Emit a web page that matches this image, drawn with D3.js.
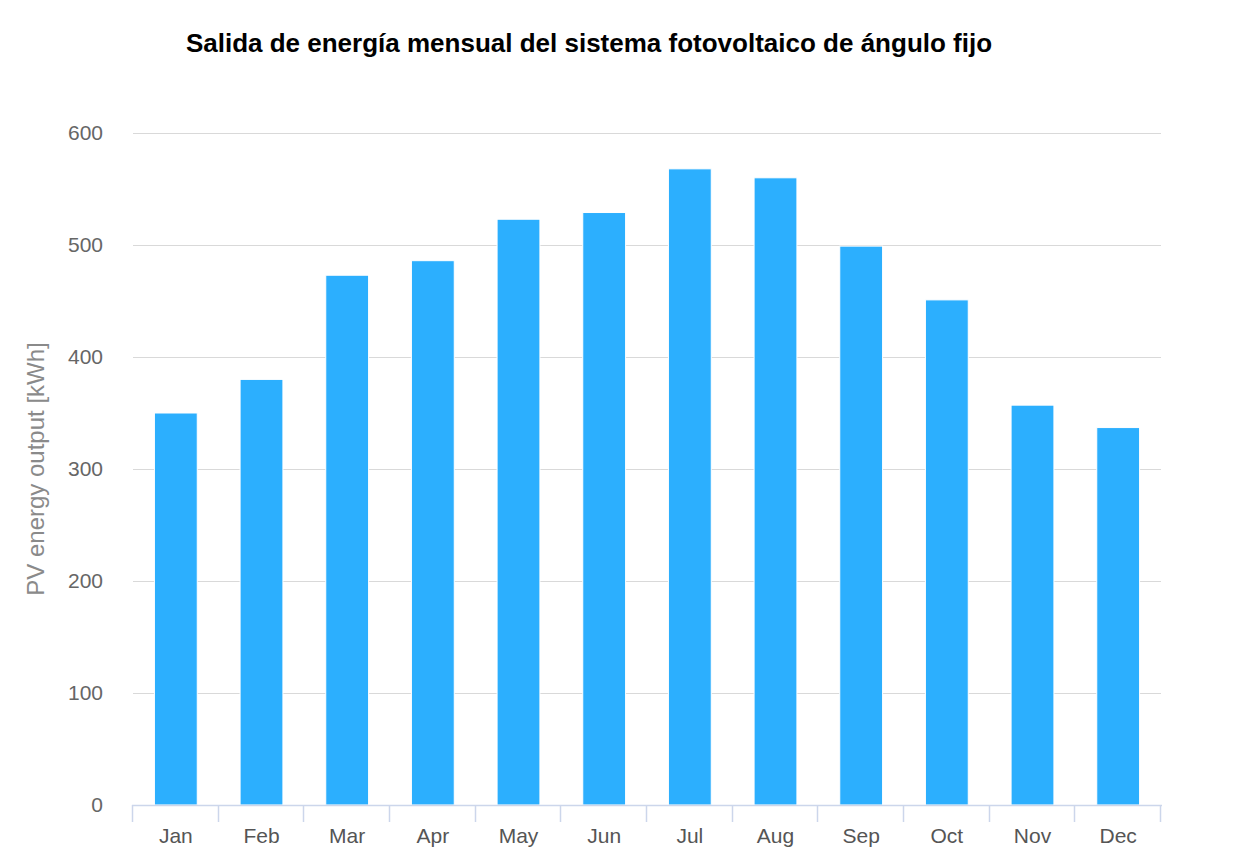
<!DOCTYPE html>
<html>
<head>
<meta charset="utf-8">
<script src="https://cdn.jsdelivr.net/npm/d3@7"></script>
<style>
  html, body { margin: 0; padding: 0; background: #fff; }
  svg { display: block; font-family: "Liberation Sans", Arial, Helvetica, sans-serif; }
</style>
</head>
<body>
<svg id="chart" width="1244" height="860"></svg>
<script>
const months = ["Jan","Feb","Mar","Apr","May","Jun","Jul","Aug","Sep","Oct","Nov","Dec"];
const pvOutput = [350, 380, 473, 486, 523, 529, 568, 560, 499, 451, 357, 337];
const yTicks = [0, 100, 200, 300, 400, 500, 600];
const titleText = "Salida de energía mensual del sistema fotovoltaico de ángulo fijo";
const yTitle = "PV energy output [kWh]";

const svg = d3.select("#chart");
const margin = { left: 133, right: 1244 - 1161, top: 133, bottom: 860 - 805 };
const W = 1244, H = 860;

const x = d3.scaleBand().domain(months).range([margin.left, W - margin.right])
  .paddingInner(0.5).paddingOuter(0.25);
const y = d3.scaleLinear().domain([0, 600]).range([H - margin.bottom, margin.top]);

// grid
svg.append("g").selectAll("line").data(yTicks.filter(d => d > 0)).join("line")
  .attr("x1", margin.left).attr("x2", W - margin.right)
  .attr("y1", d => Math.round(y(d)) + 0.5).attr("y2", d => Math.round(y(d)) + 0.5)
  .attr("stroke", "#d9d9d9").attr("stroke-width", 1);

// y labels
svg.append("g").selectAll("text").data(yTicks).join("text")
  .attr("x", 103).attr("y", d => y(d) + 7)
  .attr("text-anchor", "end").attr("font-size", 21).attr("fill", "#666")
  .text(d => d);

// bars
svg.append("g").selectAll("rect").data(pvOutput).join("rect")
  .attr("x", (d, i) => x(months[i]))
  .attr("width", x.bandwidth())
  .attr("y", d => y(d))
  .attr("height", d => y(0) - y(d))
  .attr("fill", "#2caffe")
  .attr("stroke", "#ffffff").attr("stroke-width", 1);

// x axis
const xAxis = d3.axisBottom(x).tickSize(0).tickPadding(0);
const gx = svg.append("g").attr("transform", `translate(0,${y(0)})`).call(xAxis);
gx.select(".domain").remove();
gx.selectAll("text").remove();
svg.append("line")
  .attr("x1", margin.left - 1).attr("x2", W - margin.right + 1)
  .attr("y1", y(0) + 0.5).attr("y2", y(0) + 0.5)
  .attr("stroke", "#ccd6eb").attr("stroke-width", 1.5);
const boundaries = months.map(m => x(m) - x.step() * x.paddingInner() / 2)
  .concat([x(months[months.length - 1]) + x.bandwidth() + x.step() * x.paddingInner() / 2]);
svg.append("g").selectAll("line").data(boundaries).join("line")
  .attr("x1", d => Math.round(d) - 0.5).attr("x2", d => Math.round(d) - 0.5)
  .attr("y1", y(0)).attr("y2", y(0) + 17)
  .attr("stroke", "#ccd6eb").attr("stroke-width", 1.5);
svg.append("g").selectAll("text").data(months).join("text")
  .attr("x", d => x(d) + x.bandwidth() / 2)
  .attr("y", y(0) + 38)
  .attr("text-anchor", "middle").attr("font-size", 21).attr("fill", "#555")
  .text(d => d);

// y title
svg.append("text")
  .attr("transform", `translate(44,${(y(0) + y(600)) / 2}) rotate(-90)`)
  .attr("text-anchor", "middle").attr("font-size", 24).attr("fill", "#8a8a8a")
  .text(yTitle);

// title
svg.append("text")
  .attr("x", 589).attr("y", 52)
  .attr("text-anchor", "middle").attr("font-size", 26).attr("font-weight", "bold")
  .attr("fill", "#000").text(titleText);
</script>
</body>
</html>
